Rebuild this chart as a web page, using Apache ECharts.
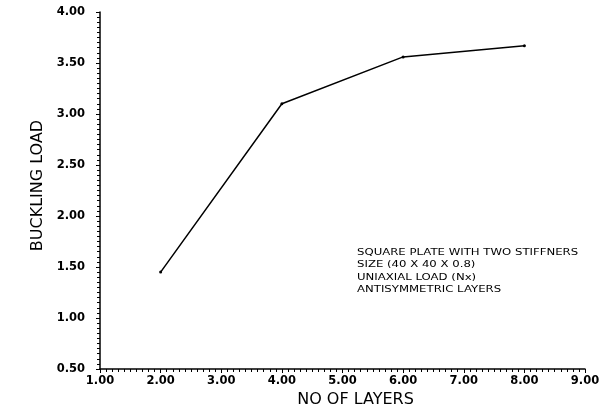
<!DOCTYPE html>
<html>
<head>
<meta charset="utf-8">
<script src="https://cdn.jsdelivr.net/npm/echarts@6/dist/echarts.min.js"></script>
<style>html,body{margin:0;padding:0;background:#fff}#c{width:599px;height:407px}</style>
</head>
<body>
<div id="c"></div>
<script>
var layers = [2, 4, 6, 8];
var bucklingLoad = [1.45, 3.10, 3.56, 3.67];
var xTickLabels = ['1.00','2.00','3.00','4.00','5.00','6.00','7.00','8.00','9.00'];
var yTickLabels = ['0.50','1.00','1.50','2.00','2.50','3.00','3.50','4.00'];
var noteLines = ['SQUARE PLATE WITH TWO STIFFNERS','SIZE (40 X 40 X 0.8)','UNIAXIAL LOAD (Nx)','ANTISYMMETRIC LAYERS'];

var chart = echarts.init(document.getElementById('c'), null, {renderer:'canvas'});
var tickFont = {fontFamily:'DejaVu Sans', fontWeight:'bold', fontSize:11.5, color:'#000'};
chart.setOption({
  animation:false,
  backgroundColor:'#fff',
  grid:{left:100, right:14, top:12, bottom:38, outerBoundsMode:'none', containLabel:false},
  xAxis:{
    type:'value', min:1, max:9, interval:1,
    name:'NO OF LAYERS', nameLocation:'middle', nameGap:16,
    nameTextStyle:{fontFamily:'DejaVu Sans', fontSize:16, color:'#000', padding:[0,0,0,26]},
    axisLine:{lineStyle:{color:'#000', width:1.5}},
    axisTick:{show:true, length:4, lineStyle:{color:'#000', width:1}},
    minorTick:{show:true, splitNumber:10, length:3, lineStyle:{color:'#000', width:1}},
    axisLabel:Object.assign({margin:6, formatter:function(v){return xTickLabels[Math.round(v-1)];}}, tickFont),
    splitLine:{show:false}
  },
  yAxis:{
    type:'value', min:0.5, max:4, interval:0.5,
    name:'BUCKLING LOAD', nameLocation:'middle', nameGap:54,
    nameTextStyle:{fontFamily:'DejaVu Sans', fontSize:16, color:'#000', padding:[0,0,0,10]},
    axisLine:{show:true, lineStyle:{color:'#000', width:1.5}},
    axisTick:{show:true, length:4, lineStyle:{color:'#000', width:1}},
    minorTick:{show:true, splitNumber:10, length:3, lineStyle:{color:'#000', width:1}},
    axisLabel:Object.assign({margin:15, formatter:function(v){return yTickLabels[Math.round((v-0.5)/0.5)];}}, tickFont),
    splitLine:{show:false}
  },
  graphic:[{
    type:'text', x:357, y:246, scaleX:1.3,
    style:{text:noteLines.join('\n'), font:'9px "DejaVu Sans"', lineHeight:12.5, fill:'#000'}
  }],
  series:[{
    type:'line',
    data:layers.map(function(x,i){return [x, bucklingLoad[i]];}),
    symbol:'circle', symbolSize:3,
    itemStyle:{color:'#000'},
    lineStyle:{color:'#000', width:1.5}
  }]
});
</script>
</body>
</html>
